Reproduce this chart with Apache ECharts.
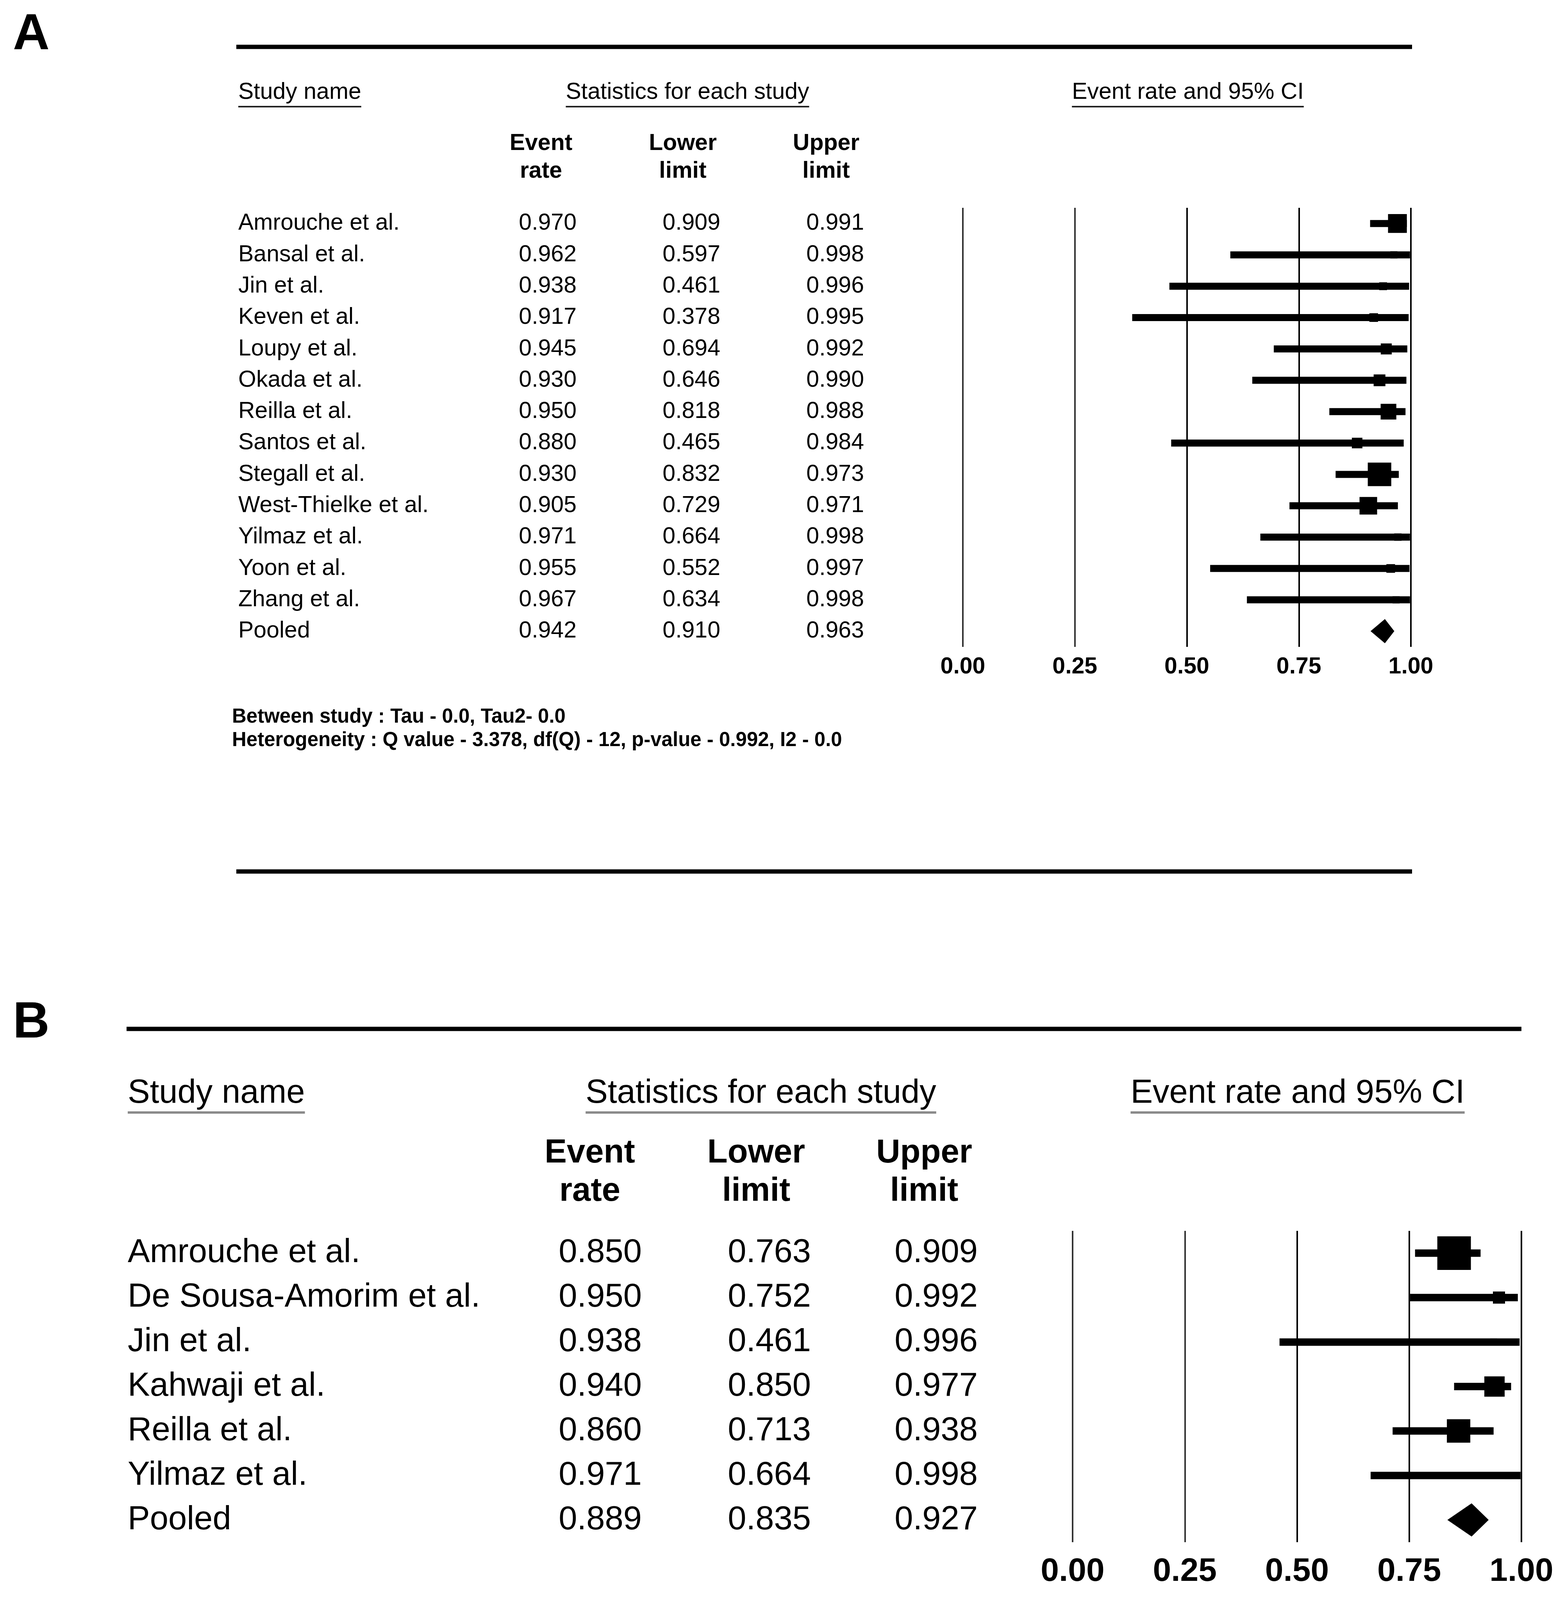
<!DOCTYPE html>
<html><head><meta charset="utf-8">
<script src="https://cdn.jsdelivr.net/npm/echarts@6/dist/echarts.min.js"></script>
<style>html,body{margin:0;padding:0;background:#fff}#c{width:4004px;height:4271px}</style>
</head><body><div id="c"></div>
<script>
// ---------- DATA ----------
const xTicks = [0, 0.25, 0.5, 0.75, 1];

const namesA = ['Amrouche et al.','Bansal et al.','Jin et al.','Keven et al.','Loupy et al.','Okada et al.','Reilla et al.','Santos et al.','Stegall et al.','West-Thielke et al.','Yilmaz et al.','Yoon et al.','Zhang et al.','Pooled'];
const rateA  = [0.970,0.962,0.938,0.917,0.945,0.930,0.950,0.880,0.930,0.905,0.971,0.955,0.967];
const lowerA = [0.909,0.597,0.461,0.378,0.694,0.646,0.818,0.465,0.832,0.729,0.664,0.552,0.634];
const upperA = [0.991,0.998,0.996,0.995,0.992,0.990,0.988,0.984,0.973,0.971,0.998,0.997,0.998];
const weightA = [16.1,2.3,2.8,3.4,5.5,6.3,11.2,5.1,25.1,14.1,2.5,3.4,2.3];
const pooledA = [0.942,0.910,0.963];
const statsA1 = 'Between study : Tau - 0.0, Tau2- 0.0';
const statsA2 = 'Heterogeneity : Q value - 3.378, df(Q) - 12, p-value - 0.992, I2 - 0.0';

const namesB = ['Amrouche et al.','De Sousa-Amorim et al.','Jin et al.','Kahwaji et al.','Reilla et al.','Yilmaz et al.','Pooled'];
const rateB  = [0.850,0.950,0.938,0.940,0.860,0.971];
const lowerB = [0.763,0.752,0.461,0.850,0.713,0.664];
const upperB = [0.909,0.992,0.996,0.977,0.938,0.998];
const weightB = [48.3,6.3,2.1,17.7,23.5,2.1];
const pooledB = [0.889,0.835,0.927];
const statsB1 = 'Between study : Tau - 0.171, Tau2- 0.029';
const statsB2 = 'Heterogeneity : Q value - 5.423, df(Q) - 5, p-value - 0.367, I2 - 7.79';

const headTitles = ['Study name','Statistics for each study','Event rate and 95% CI'];
const colHeads = [['Event','rate'],['Lower','limit'],['Upper','limit']];

// ---------- LAYOUT ----------
const FF = '"Liberation Sans", Arial, Helvetica, sans-serif';
const L = {
  A: { grid:{left:2465, top:532, width:1147, height:1124}, fs:59, tick:59, tickMargin:22,
       nameX:610, valX:[1476,1844,2212], headX:[1385,1748,2115], headY:[368,439],
       titleY:237, titleX:[610,1760,3041], ulOff:36, ulW:4, ulColor:'#222',
       ruleX:[605,3615], ruleY:[120,2231], letterY:90,
       statsX:594, statsY:[1836,1896], statsFs:51, barH:18, sizeK:12.0, diaH:62 },
  B: { grid:{left:2746, top:3151, width:1149, height:797}, fs:85, tick:84, tickMargin:34,
       nameX:327, valX:[1643,2076,2503], headX:[1510,1936,2366], headY:[2953,3051],
       titleY:2800, titleX:[327,1948,3322], ulOff:48, ulW:6, ulColor:'#8a8a8a',
       ruleX:[324,3895], ruleY:[2634], letterY:2620,
       statsX:313, statsY:[4135,4214], statsFs:68, barH:19, sizeK:12.37, diaH:85 }
};

const ctx = document.createElement('canvas').getContext('2d');
function textW(t, fs, bold){ ctx.font = (bold?'bold ':'') + fs + 'px ' + FF; return ctx.measureText(t).width; }

function buildForestData(rate, lower, upper, weight, pooled){
  const d = rate.map((r,i)=>[lower[i], upper[i], r, i, weight[i], 0]);
  d.push([pooled[1], pooled[2], pooled[0], rate.length, 0, 1]);
  return d;
}
function forestRender(cfg){
  return function(params, api){
    const lo=api.value(0), hi=api.value(1), est=api.value(2), row=api.value(3), w=api.value(4), isPooled=api.value(5);
    const pL=api.coord([lo,row]), pH=api.coord([hi,row]), pE=api.coord([est,row]);
    const y=pE[1];
    if (isPooled) {
      return {type:'polygon', shape:{points:[[pL[0],y],[pE[0],y-cfg.diaH/2],[pH[0],y],[pE[0],y+cfg.diaH/2]]}, style:{fill:'#000'}};
    }
    const s = Math.max(cfg.sizeK*Math.sqrt(w), 1);
    return {type:'group', children:[
      {type:'rect', shape:{x:pL[0], y:y-cfg.barH/2, width:pH[0]-pL[0], height:cfg.barH}, style:{fill:'#000'}},
      {type:'rect', shape:{x:pE[0]-s/2, y:y-s/2, width:s, height:s}, style:{fill:'#000'}}
    ]};
  };
}
function tableRender(cfg, names, rate, lower, upper, pooled){
  return function(params, api){
    const i = params.dataIndex;
    const y = api.coord([0, api.value(1)])[1];
    const vals = i < rate.length ? [rate[i], lower[i], upper[i]] : pooled;
    const font = cfg.fs + 'px ' + FF;
    const ch = [{type:'text', style:{text:names[i], x:cfg.nameX, y:y, align:'left', verticalAlign:'middle', font:font, fill:'#000'}}];
    vals.forEach((v,k)=>ch.push({type:'text', style:{text:v.toFixed(3), x:cfg.valX[k], y:y, align:'right', verticalAlign:'middle', font:font, fill:'#000'}}));
    return {type:'group', children:ch};
  };
}

function axisX(idx, cfg){
  return {gridIndex:idx, type:'value', min:xTicks[0], max:xTicks[xTicks.length-1], interval:xTicks[1]-xTicks[0],
    axisLine:{show:false}, axisTick:{show:false},
    splitLine:{show:true, lineStyle:{color:['#333','#333','#000','#000','#000'], width:4}},
    axisLabel:{show:true, margin:cfg.tickMargin, fontSize:cfg.tick, fontWeight:'bold', fontFamily:FF, color:'#000',
      showMinLabel:true, showMaxLabel:true, formatter:v=>v.toFixed(2)}};
}
function axisY(idx, names){
  return {gridIndex:idx, type:'category', data:names, inverse:true, show:false, boundaryGap:true};
}

function panelGraphics(cfg, letter, statsLines){
  const g = [];
  g.push({type:'text', style:{text:letter, x:33, y:cfg.letterY, verticalAlign:'middle', font:'bold 130px '+FF, fill:'#000'}});
  cfg.ruleY.forEach(ry=>g.push({type:'line', shape:{x1:cfg.ruleX[0], y1:ry, x2:cfg.ruleX[1], y2:ry}, style:{stroke:'#000', lineWidth:11}}));
  headTitles.forEach((t,k)=>{
    const w = textW(t, cfg.fs, false);
    const x0 = k===0 ? cfg.titleX[0] : cfg.titleX[k]-w/2;
    g.push({type:'text', style:{text:t, x:x0, y:cfg.titleY, align:'left', verticalAlign:'middle', font:cfg.fs+'px '+FF, fill:'#000'}});
    const uy = cfg.titleY + cfg.ulOff;
    g.push({type:'line', shape:{x1:x0, y1:uy, x2:x0+w, y2:uy}, style:{stroke:cfg.ulColor, lineWidth:cfg.ulW}});
  });
  colHeads.forEach((pair,k)=>pair.forEach((t,j)=>{
    g.push({type:'text', style:{text:t, x:cfg.headX[k], y:cfg.headY[j], align:'center', verticalAlign:'middle', font:'bold '+cfg.fs+'px '+FF, fill:'#000'}});
  }));
  statsLines.forEach((t,j)=>g.push({type:'text', style:{text:t, x:cfg.statsX, y:cfg.statsY[j], align:'left', verticalAlign:'middle', font:'bold '+cfg.statsFs+'px '+FF, fill:'#000'}}));
  return g;
}

const chart = echarts.init(document.getElementById('c'), null, {renderer:'canvas', width:4004, height:4271});
const tableDataA = namesA.map((n,i)=>[0,i]);
const tableDataB = namesB.map((n,i)=>[0,i]);
chart.setOption({
  animation:false,
  backgroundColor:'#fff',
  grid:[Object.assign({containLabel:false}, L.A.grid), Object.assign({containLabel:false}, L.B.grid)],
  xAxis:[axisX(0, L.A), axisX(1, L.B)],
  yAxis:[axisY(0, namesA), axisY(1, namesB)],
  series:[
    {type:'custom', xAxisIndex:0, yAxisIndex:0, clip:false, silent:true, renderItem:forestRender(L.A),
     encode:{x:[0,1,2], y:3}, data:buildForestData(rateA, lowerA, upperA, weightA, pooledA)},
    {type:'custom', xAxisIndex:0, yAxisIndex:0, clip:false, silent:true, renderItem:tableRender(L.A, namesA, rateA, lowerA, upperA, pooledA),
     encode:{x:0, y:1}, data:tableDataA},
    {type:'custom', xAxisIndex:1, yAxisIndex:1, clip:false, silent:true, renderItem:forestRender(L.B),
     encode:{x:[0,1,2], y:3}, data:buildForestData(rateB, lowerB, upperB, weightB, pooledB)},
    {type:'custom', xAxisIndex:1, yAxisIndex:1, clip:false, silent:true, renderItem:tableRender(L.B, namesB, rateB, lowerB, upperB, pooledB),
     encode:{x:0, y:1}, data:tableDataB}
  ],
  graphic:{elements: panelGraphics(L.A, 'A', [statsA1, statsA2]).concat(panelGraphics(L.B, 'B', [statsB1, statsB2]))}
});
</script></body></html>
